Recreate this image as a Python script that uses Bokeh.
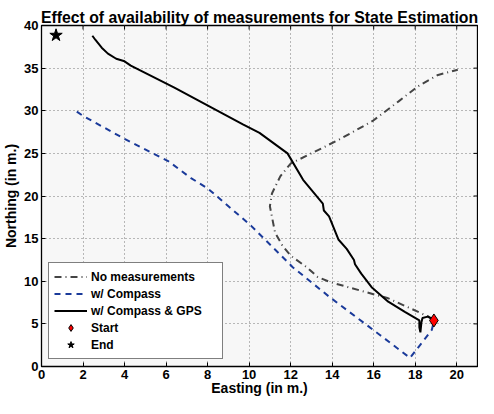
from bokeh.plotting import figure
from bokeh.models import Range1d, FixedTicker, Legend, LegendItem
from bokeh.embed import file_html
from bokeh.resources import INLINE

# --- data ---
no_meas_x = [18.85, 18.6, 16.7, 13.9, 13.3, 12.8, 12.0, 11.6, 11.25, 11.0, 11.1, 11.5, 12.0, 13.0, 14.4, 15.95, 17.2, 18.15, 19.1, 20.05]
no_meas_y = [5.5, 5.9, 8.0, 9.9, 10.5, 11.6, 13.0, 14.2, 15.7, 18.8, 20.3, 22.3, 23.8, 25.0, 26.7, 28.8, 31.1, 32.9, 34.2, 34.8]

compass_x = [1.7, 2.0, 4.0, 6.1, 7.2, 8.0, 10.1, 12.1, 13.9, 16.3, 17.75, 18.8, 18.9]
compass_y = [29.9, 29.4, 26.7, 24.1, 22.1, 20.9, 16.5, 11.65, 8.1, 3.7, 1.0, 4.3, 5.3]

gps_x = [18.9, 18.6, 18.35, 18.3, 18.25, 18.2, 18.2, 17.5, 16.7, 15.9, 15.4, 15.1, 15.05, 14.7, 14.3, 13.85, 13.6, 13.55, 12.6, 11.85, 10.5, 9.7, 6.4, 4.3, 4.0, 3.6, 3.2, 2.9, 2.6, 2.45]
gps_y = [5.5, 5.85, 5.7, 5.2, 4.0, 4.6, 5.4, 6.4, 7.6, 9.3, 10.9, 12.0, 12.5, 13.8, 14.9, 17.6, 18.3, 19.1, 21.9, 25.0, 27.4, 28.4, 32.7, 35.3, 35.8, 36.1, 36.7, 37.4, 38.3, 38.8]

start_x = [18.9]
start_y = [5.4]
end_x = [0.7]
end_y = [38.85]

x_ticks = [0, 2, 4, 6, 8, 10, 12, 14, 16, 18, 20]
y_ticks = [0, 5, 10, 15, 20, 25, 30, 35, 40]

FONT = "Liberation Sans"
X0, X1, Y0, Y1 = 0, 21, 0, 40

W, H = 478, 398
BL, BR, BT, BB = 36, 1, 25, 20

p = figure(width=W, height=H, output_backend="svg", toolbar_location=None,
           x_range=Range1d(X0, X1), y_range=Range1d(Y0, Y1),
           title="Effect of availability of measurements for State Estimation",
           min_border_left=BL, min_border_right=BR, min_border_top=BT, min_border_bottom=BB)

p.title.align = "center"
p.title.text_font = FONT
p.title.text_font_style = "bold"
p.title.text_font_size = "15.8px"
p.title.text_color = "black"
p.title.offset = 0
p.title.standoff = 0

p.background_fill_color = "#f7f7f7"
p.border_fill_color = "white"
p.outline_line_color = "black"
p.outline_line_width = 1.3

for ax in (p.xaxis[0], p.yaxis[0]):
    ax.major_tick_in = 4
    ax.major_tick_out = 0
    ax.minor_tick_line_color = None
    ax.axis_line_color = "black"
    ax.major_label_text_font = FONT
    ax.major_label_text_font_style = "bold"
    ax.major_label_text_font_size = "13px"
    ax.major_label_text_color = "black"
    ax.axis_label_text_font = FONT
    ax.axis_label_text_font_style = "bold"
    ax.axis_label_text_font_size = "14px"
    ax.axis_label_text_color = "black"
    ax.major_label_standoff = 3

p.xaxis[0].ticker = FixedTicker(ticks=x_ticks)
p.yaxis[0].ticker = FixedTicker(ticks=y_ticks)
p.xaxis[0].axis_label = "Easting (in m.)"
p.yaxis[0].axis_label = "Northing (in m.)"
p.xaxis[0].axis_label_standoff = -2
p.yaxis[0].axis_label_standoff = 2

p.xgrid.ticker = FixedTicker(ticks=x_ticks)
p.ygrid.ticker = FixedTicker(ticks=y_ticks)
for g in (p.xgrid[0], p.ygrid[0]):
    g.grid_line_color = "#777777"
    g.grid_line_dash = "1 3"
    g.grid_line_width = 1

# inward tick marks on the top and right edges (MATLAB box style)
frame_w = W - BL - BR
frame_h = H - BT - 32
tick_px = 4
dy = tick_px * (Y1 - Y0) / frame_h
dx = tick_px * (X1 - X0) / frame_w
p.segment(x0=x_ticks, y0=[Y1] * len(x_ticks), x1=x_ticks, y1=[Y1 - dy] * len(x_ticks),
          line_color="black", line_width=1)
p.segment(x0=[X1] * len(y_ticks), y0=y_ticks, x1=[X1 - dx] * len(y_ticks), y1=y_ticks,
          line_color="black", line_width=1)

r1 = p.line(no_meas_x, no_meas_y, line_color="#444444", line_width=2, line_dash="7 4 1 4")
r2 = p.line(compass_x, compass_y, line_color="#1a3a9a", line_width=2, line_dash="6 5")
r3 = p.line(gps_x, gps_y, line_color="black", line_width=2)
r4 = p.scatter(start_x, start_y, marker="diamond", size=13, fill_color="red", line_color="black", line_width=1)
r5 = p.scatter(end_x, end_y, marker="star", size=13, fill_color="black", line_color="black")

legend = Legend(items=[
    LegendItem(label="No measurements", renderers=[r1]),
    LegendItem(label="w/ Compass", renderers=[r2]),
    LegendItem(label="w/ Compass & GPS", renderers=[r3]),
    LegendItem(label="Start", renderers=[r4]),
    LegendItem(label="End", renderers=[r5]),
], location="bottom_left")
legend.label_text_font = FONT
legend.label_text_font_style = "bold"
legend.label_text_font_size = "12px"
legend.label_text_color = "black"
legend.border_line_color = "black"
legend.border_line_width = 1.3
legend.background_fill_color = "white"
legend.background_fill_alpha = 1
legend.glyph_width = 33
legend.glyph_height = 17
legend.label_height = 17
legend.label_width = 126
legend.spacing = 0
legend.padding = 5
legend.margin = 7
legend.label_standoff = 4
p.add_layout(legend, "center")

open("out.html", "w").write(file_html(p, INLINE))
